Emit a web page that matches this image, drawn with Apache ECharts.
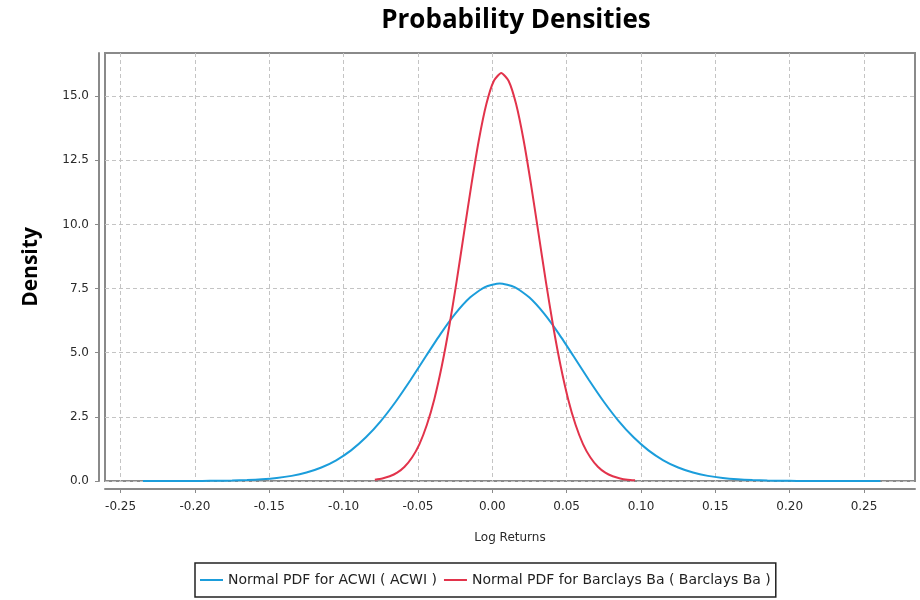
<!DOCTYPE html>
<html>
<head>
<meta charset="utf-8">
<script src="https://cdn.jsdelivr.net/npm/echarts@6/dist/echarts.min.js"></script>
<style>html,body{margin:0;padding:0;background:#fff}#c{width:920px;height:600px}</style>
</head>
<body>
<div id="c"></div>
<script>
var xTickValues = [-0.25, -0.20, -0.15, -0.10, -0.05, 0.00, 0.05, 0.10, 0.15, 0.20, 0.25];
var yTickValues = [0, 2.5, 5, 7.5, 10, 12.5, 15];

var acwiX = [-0.235,-0.225,-0.215,-0.205,-0.195,-0.185,-0.175,-0.165,-0.155,-0.145,
             -0.135,-0.125,-0.115,-0.105,-0.095,-0.085,-0.075,-0.065,-0.055,-0.045,
             -0.035,-0.025,-0.015,-0.005,0.005,0.015,0.025,0.035,0.045,0.055,
             0.065,0.075,0.085,0.095,0.105,0.115,0.125,0.135,0.145,0.155,
             0.165,0.175,0.185,0.195,0.205,0.215,0.225,0.235,0.245,0.255,0.261];
var acwiY = [0.000,0.000,0.001,0.002,0.004,0.009,0.018,0.035,0.065,0.116,
             0.200,0.330,0.526,0.808,1.194,1.702,2.336,3.089,3.936,4.833,
             5.715,6.511,7.147,7.558,7.700,7.558,7.147,6.511,5.715,4.833,
             3.936,3.089,2.336,1.702,1.194,0.808,0.526,0.330,0.200,0.116,
             0.065,0.035,0.018,0.009,0.004,0.002,0.001,0.000,0.000,0.000,0.000];

var barcX = [-0.079,-0.074,-0.069,-0.064,-0.059,-0.054,-0.049,-0.044,-0.039,-0.034,
             -0.029,-0.024,-0.019,-0.014,-0.009,-0.004,0.001,0.006,0.011,0.016,
             0.021,0.026,0.031,0.036,0.041,0.046,0.051,0.056,0.061,0.066,
             0.071,0.076,0.081,0.086,0.091,0.096];
var barcY = [0.051,0.099,0.183,0.325,0.556,0.913,1.44,2.19,3.19,4.47,
             6.01,7.78,9.68,11.57,13.30,14.69,15.59,15.90,15.59,14.69,
             13.30,11.57,9.68,7.78,6.01,4.47,3.19,2.19,1.44,0.913,
             0.556,0.325,0.183,0.099,0.051,0.026];

function pairs(xs, ys){ return xs.map(function(x,i){ return [x, ys[i]]; }); }

var chart = echarts.init(document.getElementById('c'), null, {renderer:'canvas'});
var labelFont = {fontFamily:'DejaVu Sans', fontSize:12, color:'#2a2a2a'};
chart.setOption({
  animation:false,
  backgroundColor:'#fff',
  title:{
    text:'Probability Densities', left:511, top:3, textAlign:'center',
    textStyle:{fontFamily:'Open Sans', fontWeight:'bold', fontSize:26, color:'#000'}
  },
  grid:{left:105, top:53, right:5, bottom:119, show:true, borderColor:'#8a8a8a', borderWidth:2, containLabel:false},
  xAxis:{
    type:'value', min:-0.2605, max:0.2843, offset:8,
    name:'Log Returns', nameLocation:'middle', nameGap:43,
    nameTextStyle:{fontFamily:'DejaVu Sans', fontSize:12, color:'#2a2a2a'},
    axisLine:{show:true, onZero:false, lineStyle:{color:'#8a8a8a', width:2}},
    axisTick:{show:true, length:4, lineStyle:{color:'#8a8a8a'}, customValues:xTickValues},
    axisLabel:Object.assign({margin:12, customValues:xTickValues, formatter:function(v){return v.toFixed(2);}}, labelFont),
    splitLine:{show:true, lineStyle:{color:'#c4c4c4', type:[4,3], width:1}}
  },
  yAxis:{
    type:'value', min:0, max:16.68, offset:6,
    name:'Density', nameLocation:'middle', nameGap:57,
    nameTextStyle:{fontFamily:'Open Sans', fontWeight:'bold', fontSize:21, color:'#000'},
    axisLine:{show:true, onZero:false, lineStyle:{color:'#8a8a8a', width:2}},
    axisTick:{show:true, length:4, lineStyle:{color:'#8a8a8a'}, customValues:yTickValues},
    axisLabel:Object.assign({margin:10, customValues:yTickValues, formatter:function(v){return v.toFixed(1);}}, labelFont),
    splitLine:{show:true, lineStyle:{color:'#c4c4c4', type:[4,3], width:1}}
  },
  legend:{
    left:195, top:563, orient:'horizontal',
    borderColor:'#222', borderWidth:1.5, padding:[10,5], itemGap:7,
    icon:'rect', itemWidth:23, itemHeight:2,
    textStyle:{fontFamily:'DejaVu Sans', fontSize:14, color:'#222'},
    data:['Normal PDF for ACWI ( ACWI )','Normal PDF for Barclays Ba ( Barclays Ba )']
  },
  series:[
    {name:'Normal PDF for ACWI ( ACWI )', type:'line', symbol:'none', smooth:0.2,
     lineStyle:{color:'#1b9ddb', width:2}, itemStyle:{color:'#1b9ddb'},
     data:pairs(acwiX, acwiY)},
    {name:'Normal PDF for Barclays Ba ( Barclays Ba )', type:'line', symbol:'none', smooth:0.2,
     lineStyle:{color:'#e2334b', width:2}, itemStyle:{color:'#e2334b'},
     data:pairs(barcX, barcY)}
  ]
});
</script>
</body>
</html>
